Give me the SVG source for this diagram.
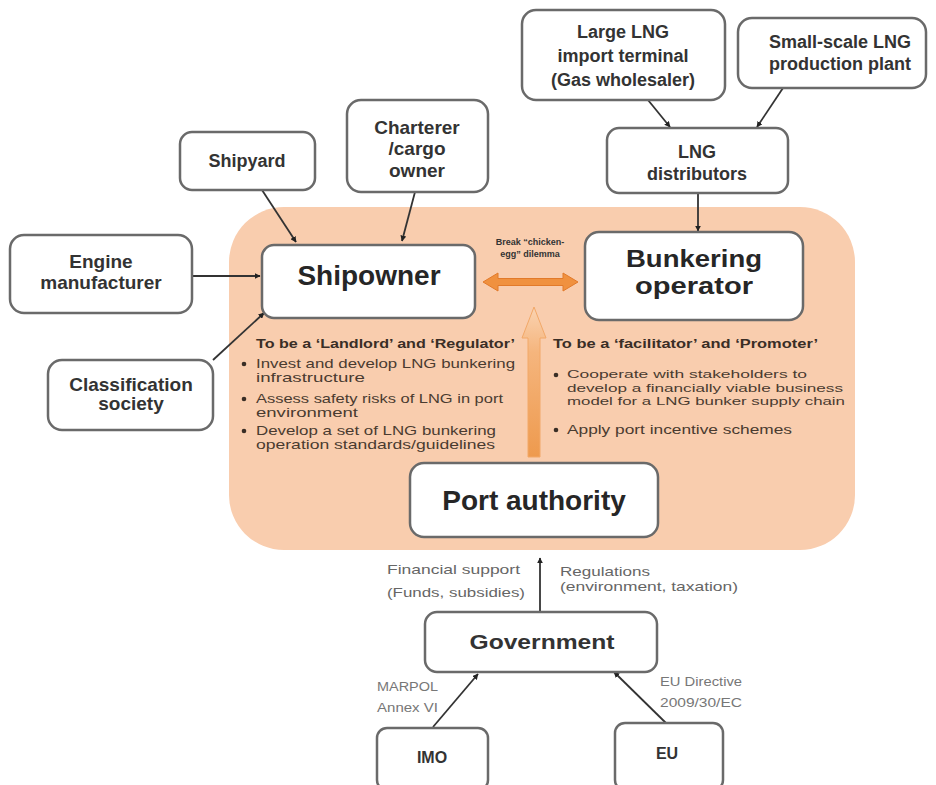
<svg xmlns="http://www.w3.org/2000/svg" width="936" height="785" viewBox="0 0 936 785">
<style>
.box{fill:#fff;stroke:#6a6a6a;stroke-width:2.5}
.lbl{font-family:"Liberation Sans",Arial,sans-serif;font-weight:bold;fill:#333;text-anchor:middle}
.big{font-family:"Liberation Sans",Arial,sans-serif;font-weight:bold;fill:#262626;text-anchor:middle;font-size:28px}
.body{font-family:"Liberation Sans",Arial,sans-serif;fill:#4a3b30;font-size:13px}
.body2{font-family:"Liberation Sans",Arial,sans-serif;fill:#4a3b30;font-size:11px}
.head{font-family:"Liberation Sans",Arial,sans-serif;font-weight:bold;fill:#3a2e26;font-size:13px}
.note{font-family:"Liberation Sans",Arial,sans-serif;fill:#666;font-size:13px}
.small{font-family:"Liberation Sans",Arial,sans-serif;fill:#777;font-size:12px}
.conn{stroke:#333;stroke-width:1.8;fill:none}
</style>
<defs>
<marker id="ah" viewBox="0 0 10 10" refX="9" refY="5" markerWidth="6" markerHeight="6" orient="auto" markerUnits="userSpaceOnUse">
<path d="M0,0 L10,5 L0,10 z" fill="#222"/>
</marker>
<linearGradient id="vg" x1="0" y1="0" x2="0" y2="1">
<stop offset="0" stop-color="#FAD3B2"/>
<stop offset="0.3" stop-color="#F5B57D"/>
<stop offset="1" stop-color="#EE9A4E"/>
</linearGradient>
</defs>
<rect width="936" height="785" fill="#fff"/>
<rect id="port-zone" x="229" y="207" width="626" height="343" rx="55" fill="#F9CDAE"/>

<g id="connectors">
<line class="conn" x1="648" y1="100" x2="670" y2="127" marker-end="url(#ah)"/>
<line class="conn" x1="783" y1="88" x2="757" y2="127" marker-end="url(#ah)"/>
<line class="conn" x1="698" y1="193" x2="698" y2="231" marker-end="url(#ah)"/>
<line class="conn" x1="262" y1="190" x2="296" y2="242" marker-end="url(#ah)"/>
<line class="conn" x1="415" y1="192" x2="402" y2="241" marker-end="url(#ah)"/>
<line class="conn" x1="192" y1="276" x2="260" y2="276" marker-end="url(#ah)"/>
<line class="conn" x1="213" y1="360" x2="264" y2="313" marker-end="url(#ah)"/>
<line class="conn" x1="540" y1="612" x2="540" y2="558" marker-end="url(#ah)"/>
<line class="conn" x1="433" y1="727" x2="478" y2="674" marker-end="url(#ah)"/>
<line class="conn" x1="668" y1="725" x2="614" y2="672" marker-end="url(#ah)"/>
<polygon id="double-arrow" points="483,282 498,273 498,278.5 563,278.5 563,273 578,282 563,291 563,285.5 498,285.5 498,291" fill="#F0913F" stroke="#E27A2A" stroke-width="1"/>
<polygon id="up-arrow" points="534,307 546,338 540,338 540,457 528,457 528,338 522,338" fill="url(#vg)" stroke="#F2A868" stroke-width="1"/>
</g>

<g id="large-lng">
<rect class="box" x="522" y="10" width="203" height="90" rx="14"/>
<text class="lbl" font-size="18" x="623" y="38">Large LNG</text>
<text class="lbl" font-size="18" x="623" y="62">import terminal</text>
<text class="lbl" font-size="18" x="623" y="86">(Gas wholesaler)</text>
</g>
<g id="small-scale">
<rect class="box" x="738" y="18" width="188" height="70" rx="14"/>
<text class="lbl" font-size="18" x="840" y="48">Small-scale  LNG</text>
<text class="lbl" font-size="18" x="840" y="70">production plant</text>
</g>
<g id="lng-distributors">
<rect class="box" x="607" y="128" width="181" height="65" rx="12"/>
<text class="lbl" font-size="18" x="697" y="158">LNG</text>
<text class="lbl" font-size="18" x="697" y="180">distributors</text>
</g>
<g id="shipyard">
<rect class="box" x="180" y="132" width="135" height="58" rx="12"/>
<text class="lbl" font-size="18" x="247" y="167">Shipyard</text>
</g>
<g id="charterer">
<rect class="box" x="347" y="100" width="141" height="92" rx="14"/>
<text class="lbl" font-size="19" x="417" y="134">Charterer</text>
<text class="lbl" font-size="19" x="417" y="155">/cargo</text>
<text class="lbl" font-size="19" x="417" y="177">owner</text>
</g>
<g id="engine-manufacturer">
<rect class="box" x="10" y="235" width="182" height="78" rx="14"/>
<text class="lbl" font-size="19" x="101" y="268">Engine</text>
<text class="lbl" font-size="19" x="101" y="289">manufacturer</text>
</g>
<g id="classification-society">
<rect class="box" x="48" y="360" width="165" height="70" rx="14"/>
<text class="lbl" font-size="19" x="131" y="391">Classification</text>
<text class="lbl" font-size="19" x="131" y="410">society</text>
</g>
<g id="shipowner">
<rect class="box" x="262" y="245" width="213" height="73" rx="12"/>
<text class="big" x="369" y="285">Shipowner</text>
</g>
<g id="bunkering-operator">
<rect class="box" x="585" y="232" width="218" height="88" rx="14"/>
<text class="big" font-size="24" style="font-size:24px" x="694" y="267" textLength="136" lengthAdjust="spacingAndGlyphs">Bunkering</text>
<text class="big" style="font-size:24px" x="694" y="294" textLength="118" lengthAdjust="spacingAndGlyphs">operator</text>
</g>
<g id="port-authority">
<rect class="box" x="410" y="463" width="248" height="74" rx="14"/>
<text class="big" x="534" y="510">Port authority</text>
</g>
<g id="government">
<rect class="box" x="425" y="612" width="232" height="60" rx="12"/>
<text class="lbl" font-size="20" x="542" y="649" textLength="145" lengthAdjust="spacingAndGlyphs">Government</text>
</g>
<g id="imo">
<rect class="box" x="377" y="728" width="111" height="62" rx="10"/>
<text class="lbl" font-size="16" x="432" y="763">IMO</text>
</g>
<g id="eu">
<rect class="box" x="615" y="723" width="108" height="67" rx="10"/>
<text class="lbl" font-size="16" x="667" y="759">EU</text>
</g>

<g id="labels">
<text class="lbl" font-size="9" fill="#555" x="530" y="245">Break “chicken-</text>
<text class="lbl" font-size="9" fill="#555" x="530" y="257">egg” dilemma</text>

<text class="head" x="256" y="348" textLength="259" lengthAdjust="spacingAndGlyphs">To be a ‘Landlord’ and ‘Regulator’</text>
<circle cx="244" cy="364" r="2.3" fill="#3a2e26"/>
<text class="body" x="256" y="368" textLength="259" lengthAdjust="spacingAndGlyphs">Invest and develop LNG bunkering</text>
<text class="body" x="256" y="382" textLength="109" lengthAdjust="spacingAndGlyphs">infrastructure</text>
<circle cx="244" cy="399" r="2.3" fill="#3a2e26"/>
<text class="body" x="256" y="403" textLength="247" lengthAdjust="spacingAndGlyphs">Assess safety risks of LNG in port</text>
<text class="body" x="256" y="417" textLength="102" lengthAdjust="spacingAndGlyphs">environment</text>
<circle cx="244" cy="431" r="2.3" fill="#3a2e26"/>
<text class="body" x="256" y="435" textLength="240" lengthAdjust="spacingAndGlyphs">Develop a set of LNG bunkering</text>
<text class="body" x="256" y="449" textLength="239" lengthAdjust="spacingAndGlyphs">operation standards/guidelines</text>

<text class="head" x="553" y="348" textLength="265" lengthAdjust="spacingAndGlyphs">To be a ‘facilitator’ and ‘Promoter’</text>
<circle cx="556" cy="375" r="2.3" fill="#3a2e26"/>
<text class="body2" x="567" y="378" textLength="240" lengthAdjust="spacingAndGlyphs">Cooperate with stakeholders to</text>
<text class="body2" x="567" y="391.5" textLength="276" lengthAdjust="spacingAndGlyphs">develop a financially viable business</text>
<text class="body2" x="567" y="405" textLength="278" lengthAdjust="spacingAndGlyphs">model for a LNG bunker supply chain</text>
<circle cx="556" cy="430" r="2.3" fill="#3a2e26"/>
<text class="body" x="567" y="434" textLength="225" lengthAdjust="spacingAndGlyphs">Apply port incentive schemes</text>

<text class="note" x="387" y="574" textLength="133" lengthAdjust="spacingAndGlyphs">Financial support</text>
<text class="note" x="387" y="597" textLength="138" lengthAdjust="spacingAndGlyphs">(Funds, subsidies)</text>
<text class="note" x="560" y="576" textLength="90" lengthAdjust="spacingAndGlyphs">Regulations</text>
<text class="note" x="560" y="591" textLength="178" lengthAdjust="spacingAndGlyphs">(environment, taxation)</text>

<text class="small" x="377" y="691" textLength="61" lengthAdjust="spacingAndGlyphs">MARPOL</text>
<text class="small" x="377" y="712" textLength="61" lengthAdjust="spacingAndGlyphs">Annex VI</text>
<text class="small" x="660" y="686" textLength="82" lengthAdjust="spacingAndGlyphs">EU Directive</text>
<text class="small" x="660" y="707" textLength="82" lengthAdjust="spacingAndGlyphs">2009/30/EC</text>
</g>
</svg>
